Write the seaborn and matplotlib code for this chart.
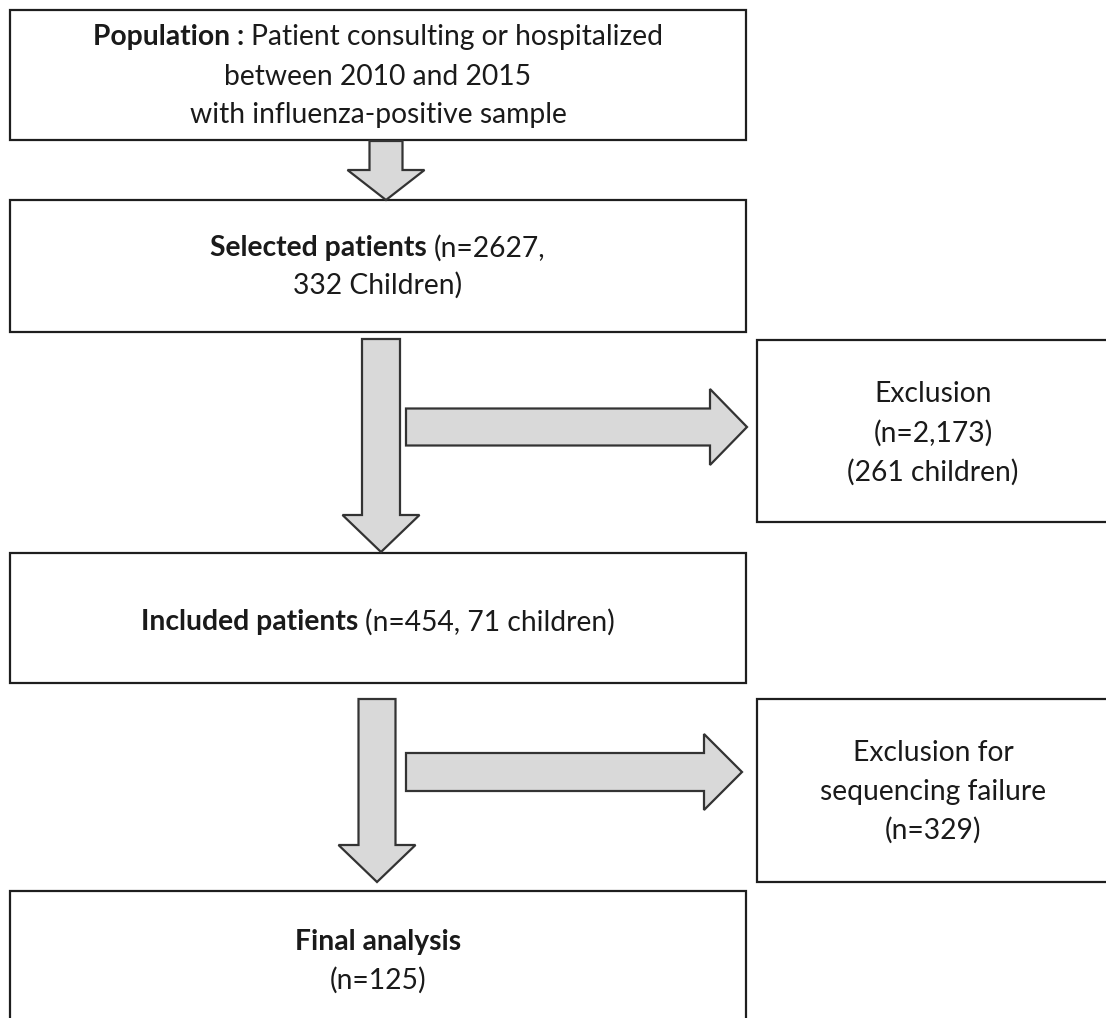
import matplotlib
matplotlib.use("Agg")
import matplotlib.pyplot as plt
from matplotlib.patches import Rectangle, Polygon
import seaborn as sns

# flowchart content
population_line1 = [("Population :", "bold"), ("Patient consulting or hospitalized", "normal")]
population_rest = ["between 2010 and 2015", "with influenza-positive sample"]
selected_n, selected_children = 2627, 332
excluded_n, excluded_children = "2,173", 261
included_n, included_children = 454, 71
seq_fail_n = 329
final_n = 125

sns.set_theme(style="white")
plt.rcParams["font.family"] = ["Lato", "DejaVu Sans"]

W, H = 1106, 1018
fig = plt.figure(figsize=(W / 100, H / 100), dpi=100)
ax = fig.add_axes([0, 0, 1, 1])
ax.set_xlim(0, W)
ax.set_ylim(H, 0)
ax.axis("off")

EDGE = "#1e1e1e"
FILL = "#d9d9d9"
FS = 20.3


def box(x0, y0, x1, y1):
    ax.add_patch(Rectangle((x0, y0), x1 - x0, y1 - y0, facecolor="white",
                           edgecolor=EDGE, lw=1.6, zorder=2))


def down_arrow(cx, top, head_start, tip, shaft_w, head_w):
    s, h = shaft_w / 2, head_w / 2
    pts = [(cx - s, top), (cx + s, top), (cx + s, head_start), (cx + h, head_start),
           (cx, tip), (cx - h, head_start), (cx - s, head_start)]
    ax.add_patch(Polygon(pts, closed=True, facecolor=FILL, edgecolor="#333333", lw=1.6, zorder=3))


def right_arrow(cy, left, head_start, tip, shaft_w, head_w):
    s, h = shaft_w / 2, head_w / 2
    pts = [(left, cy - s), (head_start, cy - s), (head_start, cy - h), (tip, cy),
           (head_start, cy + h), (head_start, cy + s), (left, cy + s)]
    ax.add_patch(Polygon(pts, closed=True, facecolor=FILL, edgecolor="#333333", lw=1.6, zorder=3))


def rich_line(cx, y, parts, size=FS):
    # mixed bold / regular pieces on one centred line
    texts = [ax.text(0, y, s, fontsize=size, fontweight=w, va="center", ha="left",
                     color="#1a1a1a", zorder=4) for s, w in parts]
    probe1 = ax.text(0, 0, "x x", fontsize=size)
    probe2 = ax.text(0, 0, "xx", fontsize=size)
    fig.canvas.draw()
    r = fig.canvas.get_renderer()
    gap = probe1.get_window_extent(r).width - probe2.get_window_extent(r).width
    probe1.remove()
    probe2.remove()
    widths = [t.get_window_extent(r).width for t in texts]
    total = sum(widths) + gap * (len(texts) - 1)
    x = cx - total / 2
    for t, wd in zip(texts, widths):
        t.set_x(x)
        x += wd + gap


def centered(cx, y, s, weight="normal", size=FS):
    ax.text(cx, y, s, fontsize=size, fontweight=weight, ha="center", va="center",
            color="#1a1a1a", zorder=4)


MAIN_L, MAIN_R, MAIN_CX = 10, 746, 378
SIDE_L, SIDE_R, SIDE_CX = 757, 1120, 933

# boxes
box(MAIN_L, 10, MAIN_R, 140)
box(MAIN_L, 200, MAIN_R, 332)
box(SIDE_L, 340, SIDE_R, 522)
box(MAIN_L, 553, MAIN_R, 683)
box(SIDE_L, 699, SIDE_R, 882)
box(MAIN_L, 891, MAIN_R, 1040)

# arrows
down_arrow(386, 141, 170, 200, 33, 77)
down_arrow(381, 339, 515, 552, 38, 77)
down_arrow(377, 699, 845, 882, 37, 77)
right_arrow(427, 406, 710, 747, 37, 76)
right_arrow(772, 406, 704, 742, 38, 76)

# texts
rich_line(MAIN_CX, 37, population_line1)
centered(MAIN_CX, 77, population_rest[0])
centered(MAIN_CX, 115, population_rest[1])

rich_line(MAIN_CX, 248, [("Selected patients", "bold"), (f"(n={selected_n},", "normal")])
centered(MAIN_CX, 285, f"{selected_children} Children)")

centered(SIDE_CX, 394, "Exclusion")
centered(SIDE_CX, 433, f"(n={excluded_n})")
centered(SIDE_CX, 472, f"({excluded_children} children)")

rich_line(MAIN_CX, 622, [("Included patients", "bold"),
                         (f"(n={included_n}, {included_children} children)", "normal")])

centered(SIDE_CX, 753, "Exclusion for")
centered(SIDE_CX, 792, "sequencing failure")
centered(SIDE_CX, 830, f"(n={seq_fail_n})")

centered(MAIN_CX, 942, "Final analysis", weight="bold")
centered(MAIN_CX, 980, f"(n={final_n})")

fig.savefig("out.png", dpi=100)
